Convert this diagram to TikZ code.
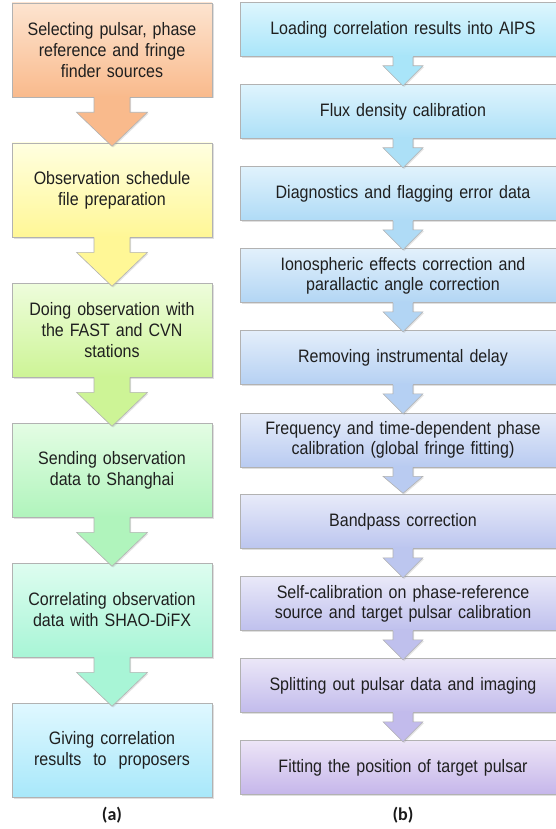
\documentclass[tikz,border=0pt]{standalone}
\usepackage{fontspec}
\setmainfont{Liberation Sans}[FakeStretch=0.89]
\newfontfamily\labfont{Carlito}[UprightFont=*-Bold, BoldFont=*-Bold]
\usetikzlibrary{shadows,calc}
% left column colours
\definecolor{L1t}{RGB}{253,228,208}\definecolor{L1b}{RGB}{249,186,140}
\definecolor{L2t}{RGB}{255,255,224}\definecolor{L2b}{RGB}{255,247,150}
\definecolor{L3t}{RGB}{238,253,220}\definecolor{L3b}{RGB}{205,244,150}
\definecolor{L4t}{RGB}{228,253,228}\definecolor{L4b}{RGB}{176,244,188}
\definecolor{L5t}{RGB}{222,253,240}\definecolor{L5b}{RGB}{168,245,214}
\definecolor{L6t}{RGB}{224,248,255}\definecolor{L6b}{RGB}{168,232,250}
% right column colours
\definecolor{Rct}{RGB}{221,246,254}\definecolor{Rcb}{RGB}{169,229,249}
\definecolor{Rpt}{RGB}{237,229,247}\definecolor{Rpb}{RGB}{197,182,234}
\colorlet{R0t}{Rct}\colorlet{R0b}{Rcb}
\colorlet{R1t}{Rpt!11!Rct}\colorlet{R1b}{Rpb!11!Rcb}
\colorlet{R2t}{Rpt!22!Rct}\colorlet{R2b}{Rpb!22!Rcb}
\colorlet{R3t}{Rpt!33!Rct}\colorlet{R3b}{Rpb!33!Rcb}
\colorlet{R4t}{Rpt!44!Rct}\colorlet{R4b}{Rpb!44!Rcb}
\colorlet{R5t}{Rpt!56!Rct}\colorlet{R5b}{Rpb!56!Rcb}
\colorlet{R6t}{Rpt!67!Rct}\colorlet{R6b}{Rpb!67!Rcb}
\colorlet{R7t}{Rpt!78!Rct}\colorlet{R7b}{Rpb!78!Rcb}
\colorlet{R8t}{Rpt!89!Rct}\colorlet{R8b}{Rpb!89!Rcb}
\colorlet{R9t}{Rpt}\colorlet{R9b}{Rpb}
\newcommand{\barrow}[6]{%
  \fill[#6, drop shadow={shadow xshift=1.2pt,shadow yshift=-1.2pt,opacity=0.22}]
    ($(#1.south)+(-#2,-1.2)$) -- ($(#1.south)+(-#2,#3)$) -- ($(#1.south)+(-#4,#3)$)
    -- ($(#1.south)+(0,#5)$) -- ($(#1.south)+(#4,#3)$) -- ($(#1.south)+(#2,#3)$)
    -- ($(#1.south)+(#2,-1.2)$) -- cycle;
  \draw[arrline] ($(#1.south)+(-#2,0)$) -- ($(#1.south)+(-#2,#3)$) -- ($(#1.south)+(-#4,#3)$)
    -- ($(#1.south)+(0,#5)$) -- ($(#1.south)+(#4,#3)$) -- ($(#1.south)+(#2,#3)$)
    -- ($(#1.south)+(#2,0)$);
}
\begin{document}
\begin{tikzpicture}[x=1pt,y=-1pt,
  box/.style={draw=black!30, line width=0.6pt, align=center, inner sep=0pt,
    font=\fontsize{18}{21}\selectfont, text=black!88,
    drop shadow={shadow xshift=1.5pt,shadow yshift=-1.5pt,opacity=0.25}},
  lbox/.style={box, minimum width=200pt, minimum height=94pt, text width=196pt},
  rbox/.style={box, minimum width=326pt, minimum height=54pt, text width=320pt,
    font=\fontsize{18}{20}\selectfont},
  arrline/.style={draw=black!30, line width=0.6pt},
  lab/.style={font=\labfont\fontsize{18}{20}\selectfont, text=black!90}
]
\useasboundingbox (0,0) rectangle (556,829);
\clip (0,0) rectangle (556,829);
\fill[white] (0,0) rectangle (556,829);

% ---------- left column ----------
\node[lbox, top color=L1t, bottom color=L1b] (L1) at (112,50)
  {Selecting pulsar, phase\\reference and fringe\\finder sources};
\node[lbox, top color=L2t, bottom color=L2b] (L2) at (112,190)
  {Observation schedule\\file preparation};
\node[lbox, top color=L3t, bottom color=L3b] (L3) at (112,330)
  {Doing observation with\\the FAST and CVN\\stations};
\node[lbox, top color=L4t, bottom color=L4b] (L4) at (112,470)
  {Sending observation\\data to Shanghai};
\node[lbox, top color=L5t, bottom color=L5b] (L5) at (112,610)
  {Correlating observation\\data with SHAO-DiFX};
\node[lbox, top color=L6t, bottom color=L6b] (L6) at (112,750)
  {Giving correlation\\results~ to~ proposers};

\barrow{L1}{18}{15}{35.5}{49}{L1b}
\barrow{L2}{18}{15}{35.5}{49}{L2b}
\barrow{L3}{18}{15}{35.5}{49}{L3b}
\barrow{L4}{18}{15}{35.5}{49}{L4b}
\barrow{L5}{18}{15}{35.5}{49}{L5b}

% ---------- right column ----------
\node[rbox, top color=R0t, bottom color=R0b] (R1) at (403,29.5)
  {Loading correlation results into AIPS};
\node[rbox, top color=R1t, bottom color=R1b] (R2) at (403,111.5)
  {Flux density calibration};
\node[rbox, top color=R2t, bottom color=R2b] (R3) at (403,193.5)
  {Diagnostics and flagging error data};
\node[rbox, top color=R3t, bottom color=R3b] (R4) at (403,275.5)
  {Ionospheric effects correction and\\parallactic angle correction};
\node[rbox, top color=R4t, bottom color=R4b] (R5) at (403,357.5)
  {Removing instrumental delay};
\node[rbox, top color=R5t, bottom color=R5b] (R6) at (403,440)
  {Frequency and time-dependent phase\\calibration (global fringe fitting)};
\node[rbox, top color=R6t, bottom color=R6b] (R7) at (403,521.5)
  {Bandpass correction};
\node[rbox, top color=R7t, bottom color=R7b] (R8) at (403,603.5)
  {Self-calibration on phase-reference\\source and target pulsar calibration};
\node[rbox, top color=R8t, bottom color=R8b] (R9) at (403,685.5)
  {Splitting out pulsar data and imaging};
\node[rbox, top color=R9t, bottom color=R9b] (R10) at (403,767.5)
  {Fitting the position of target pulsar};

\barrow{R1}{10}{9}{20}{29}{R0b}
\barrow{R2}{10}{9}{20}{29}{R1b}
\barrow{R3}{10}{9}{20}{29}{R2b}
\barrow{R4}{10}{9}{20}{29}{R3b}
\barrow{R5}{10}{9}{20}{29}{R4b}
\barrow{R6}{10}{9}{20}{26}{R5b}
\barrow{R7}{10}{9}{20}{29}{R6b}
\barrow{R8}{10}{9}{20}{29}{R7b}
\barrow{R9}{10}{9}{20}{29}{R8b}

% ---------- labels ----------
\node[lab] (la) at (112,815) {(a)};
\node[lab] (lb) at (403,815) {(b)};
\end{tikzpicture}
\end{document}
